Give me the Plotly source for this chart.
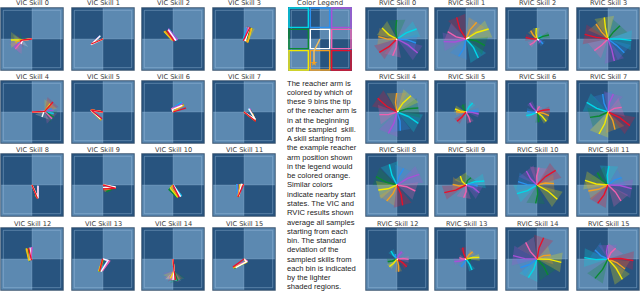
import plotly.graph_objects as go

# Colour order of all arm lists
rvic_colors = ["#00d8e8", "#2a90f0", "#a850d8", "#0a8a30", "#f060b0", "#f4ea00", "#f4a020", "#e8102a"]
vic_colors = ["#00d8e8", "#2a90f0", "#a850d8", "#0a8a30", "#f060b0", "#f4ea00", "#f4a020", "#ffffff", "#e8102a"]

vic_titles = [f"VIC Skill {i}" for i in range(16)]
rvic_titles = [f"RVIC Skill {i}" for i in range(16)]

rvic_tip_x = [
    [59, 57, 62, -1, -13, -45, -56, -53], [37, -22, -67, 57, -55, 68, 32, -28],
    [16, 18, 10, 36, -22, -2, -19, -34], [70, 49, 19, 36, -41, -11, -36, -70],
    [64, 10, -26, 64, -53, 42, -1, -58], [20, 38, 38, -10, 13, -33, -30, -27],
    [-32, -30, -22, 5, 8, 28, 36, 38], [-64, -16, 16, -54, 41, -27, 21, 66],
    [-23, 20, 67, -63, 55, -56, -31, 17], [55, 35, 40, 15, -7, -17, -40, -65],
    [-60, -57, -32, -4, 6, 61, 51, 56], [3, 41, 71, -32, 39, -69, -59, -31],
    [-18, -5, 15, -28, 35, -23, 5, 29], [18, -15, -35, 15, -20, 40, 20, -10],
    [-26, -50, -72, 33, -34, 73, 41, 20], [-71, -39, -1, -39, 23, 43, 51, 76],
]
rvic_tip_y = [
    [30, -12, -42, 57, -50, 33, 7, -40], [-57, -52, -8, -20, 22, 30, 50, 65],
    [7, -15, -10, 12, -18, 33, 25, 5], [-4, -41, -66, 40, -35, 65, 45, 14],
    [-34, -56, -64, 12, -8, 49, 57, 41], [27, 2, -6, 22, -31, 9, 1, -28],
    [-11, 2, 27, -31, 17, -28, -11, 7], [29, 54, 54, -16, 14, -66, -53, -41],
    [62, 50, 32, 25, -18, -15, -48, -61], [12, -3, -23, 22, -38, 27, 2, -23],
    [-26, 10, 42, -55, 52, -43, 4, 44], [57, 22, -11, 37, -48, 14, -18, -55],
    [24, 15, 22, -8, -1, -23, -38, -23], [-33, -23, -8, -3, 4, 5, 22, 34],
    [-56, -26, 10, -48, 50, -10, 12, 64], [4, 27, 42, -58, 32, -61, -30, -5],
]
rvic_spread = [26, 28, 10, 30, 30, 11, 10, 30, 28, 22, 28, 28, 10, 10, 30, 28]
rvic_bend = [4, 5, 2, 2, 4, 2, 2, 4, 4, 4, 4, 4, 2, 2, 4, 4]
rvic_white_x = [-3, 10, 6, 2, 5, 2, -4, 2, -2, 2, 1, 1, 3, -3, 1, 2]
rvic_white_y = [-3, 5, -3, 1, 3, 1, -2, 1, 1, 2, 1, 1, -2, -1, 1, 1]

vic_elbow_x = [
    [-28, -28, -28, -28, -28, -28, -28, -28, -28], [-35, -35, -35, -35, -35, -35, -35, -36, -35],
    [11, 10, 14, 0, 7, -4, -2, 9, 4], [-3, -1, 0, 6, 2, 12, 10, 4, -2],
    [38, 38, 38, 38, 38, 38, 38, 36, 38], [-36, -36, -36, -36, -36, -36, -36, -36, -36],
    [-3, -2, -3, 0, -4, 2, 2, -1, 0], [34, 34, 34, 34, 34, 34, 34, 34, 35],
    [17, 17, 17, 17, 17, 17, 17, 18, 16], [38, 38, 38, 38, 38, 38, 38, 38, 38],
    [5, 4, 2, -12, 1, -8, -4, 3, 0], [-22, -21, -18, -16, -14, -12, -10, -8, -2],
    [-5, -4, -3, -7, -4, -10, -8, -5, -2], [16, 14, 18, 2, 20, -2, 0, 15, -2],
    [3, 3, 3, 3, 3, 3, 3, 3, 3], [8, 8, 10, 6, 10, 8, 6, 8, 0],
]
vic_elbow_y = [
    [-3, -3, -3, -3, -3, -3, -3, -3, -3], [-15, -15, -15, -15, -15, -15, -15, -17, -15],
    [-3, -3, -2, -3, -4, -2, -3, -4, -7], [-3, -3, -4, -6, -5, -8, -9, -6, -5],
    [2, 2, 2, 2, 2, 2, 2, 2, 2], [6, 6, 6, 6, 6, 6, 6, 5, 6],
    [10, 12, 10, 3, 10, 2, 2, 8, 0], [-24, -24, -24, -26, -24, -26, -26, -22, -28],
    [-40, -40, -40, -40, -40, -40, -40, -40, -40], [-8, -8, -8, -8, -8, -8, -8, -6, -10],
    [-6, -5, -4, -14, -3, -9, -6, -3, 0], [1, 1, 1, 0, 0, 0, 0, 2, 1],
    [-2, -2, -1, -5, -2, -3, -3, -2, -3], [-5, -4, -6, -3, -6, -3, -2, -4, -2],
    [-35, -35, -35, -35, -35, -35, -35, -35, -35], [-8, -8, -6, -10, -6, -10, -10, -8, 0],
]
vic_tip_x = [
    [-45, -42, -53, -38, -50, -63, -50, -33, -36], [-9, -10, -10, -15, -14, -25, -25, -8, -30],
    [-12, -13, -14, -22, -16, -27, -25, -14, -19], [9, 10, 12, 20, 14, 23, 21, 16, 18],
    [65, 60, 65, 65, 60, 55, 60, 30, 63], [-5, -5, -6, -6, -5, -6, -5, -8, -3],
    [26, 27, 30, 32, 29, 32, 33, 28, 39], [14, 15, 16, 20, 17, 25, 25, 14, 33],
    [17, 17, 18, 12, 17, 10, 12, 18, 17], [6, 3, 10, 10, 6, 4, 4, 0, 0],
    [26, 24, 22, 12, 20, 14, 16, 23, 18], [-18, -20, -16, -14, -15, -16, -19, -15, -18],
    [-6, -4, 0, -12, -2, -17, -15, -6, -10], [-6, -6, -3, -12, -2, -13, -10, -6, -10],
    [10, 2, -10, 14, -4, -8, 2, 0, 8], [-24, -24, -26, -30, -28, -31, -33, -25, -33],
]
vic_tip_y = [
    [-10, -14, -25, -2, -30, -3, -10, -15, -7], [8, 9, 8, 2, 4, -9, -9, 10, -12],
    [30, 29, 31, 25, 27, 23, 24, 28, 25], [33, 33, 34, 34, 34, 33, 32, 34, 35],
    [-5, 10, 5, -15, -20, 25, 25, -15, 30], [-20, -20, -22, -24, -20, -23, -25, -20, -20],
    [30, 28, 25, 22, 20, 22, 21, 20, 12], [10, 10, 11, 5, 9, -5, -5, 10, -27],
    [-2, -2, -3, -25, -2, -30, -25, -2, -38], [-6, -6, -5, -20, -7, -14, -12, -8, -12],
    [-33, -33, -34, -37, -35, -37, -36, -35, -37], [-30, -32, -33, -34, -33, -36, -34, -33, -36],
    [34, 35, 36, 30, 35, 32, 30, 34, 33], [-36, -35, -34, -38, -36, -37, -37, -38, -36],
    [-65, -55, -55, -65, -63, -58, -60, -63, -63], [-24, -24, -20, -28, -22, -27, -26, -26, -24],
]
vic_spread = [24, 3, 3, 10, 22, 3, 4, 4, 3, 8, 3, 3, 5, 3, 24, 4]

# Pixel boxes of the panels
vic_left = [0, 71, 141, 212]
rvic_left = [365, 434, 505, 576]
row_top = [7, 80, 153, 227]
panel_size = 64
half_range = 96

paragraph = ["The reacher arm is", "colored by which of", "these 9 bins the tip", "of the reacher arm is",
             "in at the beginning", "of the sampled  skill.", "A skill starting from", "the example reacher",
             "arm position shown", "in the legend would", "be colored orange.", "Similar colors",
             "indicate nearby start", "states. The VIC and", "RVIC results shown", "average all samples",
             "starting from each", "bin. The standard", "deviation of the", "sampled skills from",
             "each bin is indicated", "by the lighter", "shaded regions."]

legend_edges = [-96, -32, 32, 96]
legend_bin_colors = [["#00d8e8", "#2a90f0", "#a850d8"], ["#0a8a30", "#ffffff", "#f060b0"], ["#f4ea00", "#f4a020", "#e8102a"]]
legend_arm_x = [0, -18, -18]
legend_arm_y = [0, -36, -72]

W, H = 640, 293
fig = go.Figure()
shapes = []
annotations = []
axis_count = 0


def rgba(hex_color, a):
    r, g, b = int(hex_color[1:3], 16), int(hex_color[3:5], 16), int(hex_color[5:7], 16)
    return f"rgba({r},{g},{b},{a})"


def add_panel(left, top, width=panel_size, frame=True):
    global axis_count
    axis_count += 1
    suffix = "" if axis_count == 1 else str(axis_count)
    fig.update_layout({
        f"xaxis{suffix}": dict(domain=[left / W, (left + width) / W], range=[-half_range, half_range],
                               visible=False, anchor=f"y{suffix}", fixedrange=True),
        f"yaxis{suffix}": dict(domain=[1 - (top + width) / H, 1 - top / H], range=[-half_range, half_range],
                               visible=False, anchor=f"x{suffix}", fixedrange=True),
    })
    xr, yr = f"x{suffix}", f"y{suffix}"

    def rect(x0, y0, x1, y1, fill=None, line=None, lw=0):
        shapes.append(dict(type="rect", xref=xr, yref=yr, x0=x0, y0=y0, x1=x1, y1=y1, layer="below",
                           fillcolor=fill or "rgba(0,0,0,0)", line=dict(color=line or "rgba(0,0,0,0)", width=lw)))

    def seg(x0, y0, x1, y1, color, lw):
        shapes.append(dict(type="line", xref=xr, yref=yr, x0=x0, y0=y0, x1=x1, y1=y1, layer="below",
                           line=dict(color=color, width=lw)))

    m = half_range
    rect(-m, -m, 0, 0, "#5c89b1")
    rect(0, 0, m, m, "#5c89b1")
    rect(-m, 0, 0, m, "#28547f")
    rect(0, -m, m, 0, "#28547f")
    seg(-m, 0, m, 0, "rgba(170,205,230,0.30)", 0.8)
    seg(0, -m, 0, m, "rgba(170,205,230,0.30)", 0.8)
    rect(-86, -86, 86, 86, None, "rgba(170,205,235,0.40)", 0.9)
    if frame:
        rect(-94, -94, 94, 94, None, "#2c4a68", 1.1)
        rect(-96, -96, 96, 96, None, "#d0d6dc", 0.8)
    return xr, yr, rect


def arm(xr, yr, xs, ys, color, lw):
    fig.add_trace(go.Scatter(x=xs, y=ys, xaxis=xr, yaxis=yr, mode="lines", line=dict(color=color, width=lw),
                             hoverinfo="skip", showlegend=False))


def wedge(xr, yr, ex, ey, tx, ty, spread, color, alpha):
    dx, dy = tx - ex, ty - ey
    n = max((dx * dx + dy * dy) ** 0.5, 1)
    px, py = -dy / n * spread, dx / n * spread
    fig.add_trace(go.Scatter(x=[ex, tx + px, tx - px, ex], y=[ey, ty + py, ty - py, ey], xaxis=xr, yaxis=yr,
                             mode="lines", line=dict(width=0), fill="toself", fillcolor=rgba(color, alpha),
                             hoverinfo="skip", showlegend=False))


def title(text, left, top):
    annotations.append(dict(text=text, x=(left + panel_size / 2) / W, y=1 - (top - 3.5) / H, xref="paper", yref="paper",
                            showarrow=False, xanchor="center", yanchor="middle",
                            font=dict(family="DejaVu Sans", size=6.6, color="#3a3a3a")))


# VIC panels
for s in range(16):
    left, top = vic_left[s % 4], row_top[s // 4]
    xr, yr, _ = add_panel(left, top)
    for c in range(9):
        wedge(xr, yr, vic_elbow_x[s][c], vic_elbow_y[s][c], vic_tip_x[s][c], vic_tip_y[s][c], vic_spread[s], vic_colors[c], 0.2)
    for c in range(9):
        arm(xr, yr, [0, vic_elbow_x[s][c], vic_tip_x[s][c]], [0, vic_elbow_y[s][c], vic_tip_y[s][c]], vic_colors[c], 1.3)
    title(vic_titles[s], left, top)

# RVIC panels
for s in range(16):
    left, top = rvic_left[s % 4], row_top[s // 4]
    xr, yr, _ = add_panel(left, top)
    for c in range(8):
        wedge(xr, yr, 0, 0, rvic_tip_x[s][c], rvic_tip_y[s][c], rvic_spread[s], rvic_colors[c], 0.25)
    for c in range(8):
        tx, ty = rvic_tip_x[s][c], rvic_tip_y[s][c]
        n = max((tx * tx + ty * ty) ** 0.5, 1)
        b = rvic_bend[s]
        arm(xr, yr, [0, tx / 2 - ty / n * b, tx], [0, ty / 2 + tx / n * b, ty], rvic_colors[c], 1.4)
    arm(xr, yr, [0, rvic_white_x[s]], [0, rvic_white_y[s]], "#ffffff", 1.4)
    title(rvic_titles[s], left, top)

# Colour legend
xr, yr, rect = add_panel(288, 7, frame=False)
for r in range(3):
    for c in range(3):
        rect(legend_edges[c] + 3, legend_edges[2 - r] + 3, legend_edges[c + 1] - 3, legend_edges[3 - r] - 3,
             None, legend_bin_colors[r][c], 1.4)
arm(xr, yr, legend_arm_x, legend_arm_y, "#f4c060", 1.5)
fig.add_trace(go.Scatter(x=legend_arm_x[-1:], y=legend_arm_y[-1:], xaxis=xr, yaxis=yr, mode="markers",
                         marker=dict(symbol="star", size=5, color="#f4a020"), hoverinfo="skip", showlegend=False))
annotations.append(dict(text="Color Legend", x=320 / W, y=1 - 3.5 / H, xref="paper", yref="paper", showarrow=False,
                        xanchor="center", yanchor="middle",
                        font=dict(family="DejaVu Sans", size=7, color="#3a3a3a")))

# Explanation text
for i, line in enumerate(paragraph):
    annotations.append(dict(text=line, x=285 / W, y=1 - (83 + i * 9.27) / H, xref="paper", yref="paper",
                            showarrow=False, xanchor="left", yanchor="middle",
                            font=dict(family="Liberation Sans", size=7.6, color="#222222")))

fig.update_layout(width=W, height=H, margin=dict(l=0, r=0, t=0, b=0), autosize=False, showlegend=False,
                  paper_bgcolor="white", plot_bgcolor="white", shapes=shapes, annotations=annotations)
fig.write_html("out.html", config=dict(displayModeBar=False), post_script="document.body.style.margin='0';document.documentElement.style.overflow='hidden';")
